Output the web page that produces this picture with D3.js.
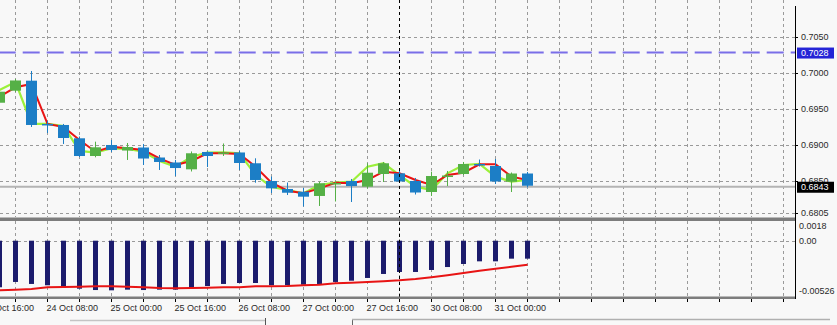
<!DOCTYPE html>
<html>
<head>
<meta charset="utf-8">
<title>AUDUSD,H4</title>
<script src="https://cdnjs.cloudflare.com/ajax/libs/d3/7.8.5/d3.min.js"></script>
<style>
body { margin:0; background:#f8f8f8; overflow:hidden; }
svg { display:block; font-family:"Liberation Sans", Arial, sans-serif; }
</style>
</head>
<body>
<script>

// H4 candles
var times = ["23 Oct 20:00","24 Oct 00:00","24 Oct 04:00","24 Oct 08:00","24 Oct 12:00","24 Oct 16:00",
             "24 Oct 20:00","25 Oct 00:00","25 Oct 04:00","25 Oct 08:00","25 Oct 12:00","25 Oct 16:00",
             "25 Oct 20:00","26 Oct 00:00","26 Oct 04:00","26 Oct 08:00","26 Oct 12:00","26 Oct 16:00",
             "26 Oct 20:00","27 Oct 00:00","27 Oct 04:00","27 Oct 08:00","27 Oct 12:00","27 Oct 16:00",
             "27 Oct 20:00","30 Oct 00:00","30 Oct 04:00","30 Oct 08:00","30 Oct 12:00","30 Oct 16:00",
             "30 Oct 20:00","31 Oct 00:00","31 Oct 04:00","31 Oct 08:00"]

var opens  = [0.69583,0.69750,0.69889,0.69288,0.69274,0.69089,0.68843,0.68996,0.68919,0.68961,0.68822,0.68753,
              0.68658,0.68899,0.68885,0.68892,0.68742,0.68496,0.68385,0.68347,0.68288,0.68461,0.68496,0.68417,
              0.68593,0.68603,0.68496,0.68343,0.68565,0.68593,0.68732,0.68704,0.68486,0.68600]
var highs  = [0.69760,0.69913,0.70024,0.69329,0.69288,0.69114,0.69042,0.69065,0.69024,0.69010,0.68857,0.68788,
              0.68906,0.68906,0.69017,0.68913,0.68811,0.68558,0.68475,0.68399,0.68486,0.68489,0.68524,0.68742,
              0.68760,0.68649,0.68538,0.68625,0.68635,0.68760,0.68794,0.68801,0.68614,0.68621]
var lows   = [0.69565,0.69732,0.69246,0.69163,0.69010,0.68829,0.68825,0.68899,0.68788,0.68718,0.68649,0.68565,
              0.68628,0.68690,0.68843,0.68649,0.68472,0.68329,0.68301,0.68142,0.68149,0.68211,0.68204,0.68392,
              0.68482,0.68482,0.68308,0.68288,0.68426,0.68579,0.68697,0.68454,0.68343,0.68406]
var closes = [0.69736,0.69892,0.69274,0.69274,0.69093,0.68843,0.68964,0.68926,0.68968,0.68808,0.68760,0.68676,
              0.68881,0.68843,0.68892,0.68746,0.68510,0.68394,0.68333,0.68278,0.68464,0.68468,0.68426,0.68611,
              0.68742,0.68489,0.68336,0.68565,0.68572,0.68732,0.68718,0.68489,0.68600,0.68430]

// moving averages drawn over the price
var maRed   = [0.69667,0.69797,0.69843,0.69288,0.69246,0.69065,0.68903,0.68972,0.68950,0.68926,0.68811,0.68718,
               0.68774,0.68881,0.68881,0.68871,0.68694,0.68472,0.68361,0.68325,0.68394,0.68472,0.68464,0.68510,
               0.68625,0.68603,0.68510,0.68440,0.68579,0.68611,0.68728,0.68728,0.68556,0.68510]
var maGreen = [0.69760,0.69871,0.69288,0.69288,0.69260,0.68913,0.68889,0.68950,0.68940,0.68903,0.68774,0.68694,
               0.68833,0.68889,0.68894,0.68881,0.68579,0.68413,0.68371,0.68325,0.68440,0.68472,0.68486,0.68694,
               0.68742,0.68579,0.68417,0.68371,0.68603,0.68718,0.68732,0.68556,0.68486,0.68510]

// MACD sub window
var macdHist   = [-0.00490,-0.00434,-0.00455,-0.00469,-0.00480,-0.00505,-0.00519,-0.00522,-0.00515,-0.00519,-0.00515,-0.00515,
                  -0.00498,-0.00477,-0.00455,-0.00445,-0.00445,-0.00469,-0.00469,-0.00463,-0.00455,-0.00434,-0.00421,-0.00392,
                  -0.00350,-0.00329,-0.00329,-0.00308,-0.00277,-0.00245,-0.00217,-0.00217,-0.00189,-0.00189]
var macdSignal = [-0.00522,-0.00515,-0.00508,-0.00490,-0.00487,-0.00484,-0.00480,-0.00480,-0.00484,-0.00490,-0.00498,-0.00501,
                  -0.00498,-0.00494,-0.00490,-0.00490,-0.00480,-0.00480,-0.00477,-0.00469,-0.00463,-0.00448,-0.00442,-0.00434,
                  -0.00427,-0.00417,-0.00403,-0.00385,-0.00364,-0.00340,-0.00316,-0.00295,-0.00274,-0.00252]

// axis labels
var timeTickIdx = [-1, 3, 7, 11, 15, 19, 23, 27, 31]
var timeLabels  = ["23 Oct 16:00","24 Oct 08:00","25 Oct 00:00","25 Oct 16:00","26 Oct 08:00",
                   "27 Oct 00:00","27 Oct 16:00","30 Oct 08:00","31 Oct 00:00"]
var priceTicks = [0.7050, 0.7000, 0.6950, 0.6900, 0.6850, 0.6805]
var macdTicks  = [0.0018, 0, -0.00526]
var macdTickLabels = ["0.0018", "0.00", "-0.00526"]

var hLevel = 0.7028        // dashed horizontal line
var lastPrice = 0.6843     // bid line
var weekStartIdx = 25      // period separator

var W = 837, H = 325
var axisX = 795

var svg = d3.select("body").append("svg")
    .attr("width", W)
    .attr("height", H)

svg.append("rect").attr("width", W).attr("height", H).style("fill", "#f8f8f8")

// scales
var x = d3.scaleLinear().domain([0, 49]).range([-0.5, 783.5])
var y = d3.scaleLinear().domain([0.6805, 0.7050]).range([213.1, 36.7])
var yM = d3.scaleLinear().domain([-0.00526, 0]).range([290.7, 240.7])

var gridIdx = d3.range(-1, 50, 2)

var main = svg.append("g")
var sub = svg.append("g")

// --- grid, main window
main.selectAll(".vgrid").data(gridIdx).enter().append("line")
    .attr("x1", function(d){ return x(d) }).attr("x2", function(d){ return x(d) })
    .attr("y1", 0).attr("y2", 217)
    .style("stroke", "#9a9a9a").style("stroke-dasharray", "3,3")

main.selectAll(".hgrid").data(priceTicks).enter().append("line")
    .attr("x1", 0).attr("x2", axisX)
    .attr("y1", function(d){ return Math.round(y(d)) + 0.5 })
    .attr("y2", function(d){ return Math.round(y(d)) + 0.5 })
    .style("stroke", "#9a9a9a").style("stroke-dasharray", "3,3")

// grid, MACD window
sub.selectAll(".vgrid").data(gridIdx).enter().append("line")
    .attr("x1", function(d){ return x(d) }).attr("x2", function(d){ return x(d) })
    .attr("y1", 221).attr("y2", 297)
    .style("stroke", "#9a9a9a").style("stroke-dasharray", "3,3")

sub.append("line")
    .attr("x1", 0).attr("x2", axisX)
    .attr("y1", Math.round(yM(0)) + 0.5).attr("y2", Math.round(yM(0)) + 0.5)
    .style("stroke", "#9a9a9a").style("stroke-dasharray", "3,3")

// period separator
svg.append("line")
    .attr("x1", x(weekStartIdx)).attr("x2", x(weekStartIdx))
    .attr("y1", 0).attr("y2", 297)
    .style("stroke", "#000").style("stroke-dasharray", "3,3")

// bid line + horizontal level
main.append("line")
    .attr("x1", 0).attr("x2", axisX)
    .attr("y1", y(lastPrice) + 1).attr("y2", y(lastPrice) + 1)
    .style("stroke", "#b4b4b4").style("stroke-width", 2)

main.append("line")
    .attr("x1", 0).attr("x2", axisX)
    .attr("y1", y(hLevel)).attr("y2", y(hLevel))
    .style("stroke", "#7a6ee8").style("stroke-width", 2)
    .style("stroke-dasharray", "17,7").style("stroke-dashoffset", 1.3)

// moving averages
var maLine = function(arr){
    return d3.line().x(function(d, i){ return x(i) }).y(function(d){ return y(d) })(arr)
}
main.append("path").attr("d", maLine(maGreen))
    .style("fill", "none").style("stroke", "#9cf03a").style("stroke-width", 2.2)
main.append("path").attr("d", maLine(maRed))
    .style("fill", "none").style("stroke", "#e81414").style("stroke-width", 2)

// candles
var bull = "#55b046", bear = "#1c7ec6"
var candles = main.selectAll(".candle").data(times).enter().append("g")

candles.append("line")
    .attr("x1", function(d, i){ return x(i) }).attr("x2", function(d, i){ return x(i) })
    .attr("y1", function(d, i){ return y(highs[i]) })
    .attr("y2", function(d, i){ return y(lows[i]) })
    .style("stroke", function(d, i){ return closes[i] >= opens[i] ? bull : bear })

candles.append("rect")
    .attr("x", function(d, i){ return x(i) - 5.5 })
    .attr("width", 11)
    .attr("y", function(d, i){ return y(Math.max(opens[i], closes[i])) })
    .attr("height", function(d, i){ return Math.max(1.5, Math.abs(y(opens[i]) - y(closes[i]))) })
    .style("fill", function(d, i){ return closes[i] >= opens[i] ? bull : bear })

// MACD histogram and signal
sub.selectAll(".bar").data(macdHist).enter().append("rect")
    .attr("x", function(d, i){ return x(i) - 2.5 })
    .attr("width", 5)
    .attr("y", function(d){ return Math.min(yM(0), yM(d)) })
    .attr("height", function(d){ return Math.abs(yM(d) - yM(0)) })
    .style("fill", "#1b1b6c")

sub.append("path")
    .attr("d", d3.line().x(function(d, i){ return x(i) }).y(function(d){ return yM(d) })(macdSignal))
    .style("fill", "none").style("stroke", "#e81414").style("stroke-width", 2)

// pane borders
svg.append("rect").attr("x", 0).attr("y", 217.5).attr("width", axisX).attr("height", 3.5).style("fill", "#7d7d7d")
svg.append("rect").attr("x", 0).attr("y", 296.5).attr("width", axisX).attr("height", 2.5).style("fill", "#7d7d7d")
svg.append("line").attr("x1", axisX + 0.5).attr("x2", axisX + 0.5).attr("y1", 6).attr("y2", 299)
    .style("stroke", "#000")

// price axis
var pAxis = svg.append("g").style("font-size", "9px").style("fill", "#2a2a2a")
pAxis.selectAll("line").data(priceTicks).enter().append("line")
    .attr("x1", axisX).attr("x2", axisX + 3)
    .attr("y1", function(d){ return Math.round(y(d)) + 0.5 })
    .attr("y2", function(d){ return Math.round(y(d)) + 0.5 })
    .style("stroke", "#000")
pAxis.selectAll("text").data(priceTicks).enter().append("text")
    .attr("x", 801).attr("y", function(d){ return y(d) }).attr("dy", "0.36em")
    .text(function(d){ return d3.format(".4f")(d) })

// boxed labels for level and bid
var boxes = [{v: hLevel, bg: "#2424d6", dy: -5}, {v: lastPrice, bg: "#000", dy: -4}]
var bx = svg.selectAll(".box").data(boxes).enter().append("g")
bx.append("rect")
    .attr("x", 797).attr("width", 37)
    .attr("y", function(d){ return y(d.v) + d.dy }).attr("height", 11)
    .style("fill", function(d){ return d.bg })
bx.append("text")
    .attr("x", 801).attr("y", function(d){ return y(d.v) + d.dy + 5.5 }).attr("dy", "0.36em")
    .style("font-size", "9px").style("fill", "#fff")
    .text(function(d){ return d3.format(".4f")(d.v) })

// MACD axis
var mAxis = svg.append("g").style("font-size", "9px").style("fill", "#2a2a2a")
mAxis.selectAll("text").data(macdTicks).enter().append("text")
    .attr("x", 799).attr("y", function(d){ return Math.max(226, yM(d)) }).attr("dy", "0.36em")
    .text(function(d, i){ return macdTickLabels[i] })

// time axis
var tAxis = svg.append("g")
tAxis.selectAll("line").data(gridIdx).enter().append("line")
    .attr("x1", function(d){ return x(d) }).attr("x2", function(d){ return x(d) })
    .attr("y1", 299).attr("y2", 302)
    .style("stroke", "#000")
tAxis.selectAll("text").data(timeTickIdx).enter().append("text")
    .attr("x", function(d){ return x(d) - 1 }).attr("y", 310.5)
    .style("font-size", "9px").style("fill", "#2a2a2a")
    .text(function(d, i){ return timeLabels[i] })

// window tab strip at the bottom edge
svg.append("line").attr("x1", 70).attr("x2", 265).attr("y1", 320.5).attr("y2", 320.5)
    .style("stroke", "#c4c4c4").style("stroke-width", 1.5)
svg.append("line").attr("x1", 265.5).attr("x2", 265.5).attr("y1", 318).attr("y2", 325).style("stroke", "#555")
svg.append("line").attr("x1", 352.5).attr("x2", 352.5).attr("y1", 319).attr("y2", 325).style("stroke", "#666")
svg.append("line").attr("x1", 352).attr("x2", 830).attr("y1", 319.5).attr("y2", 319.5)
    .style("stroke", "#b0b0b0").style("stroke-width", 1.5)

</script>
</body>
</html>
